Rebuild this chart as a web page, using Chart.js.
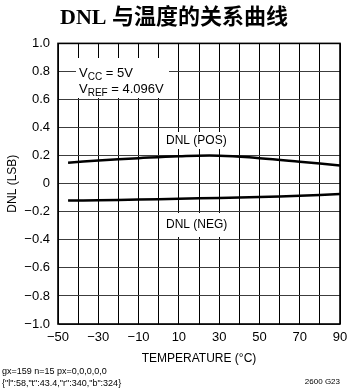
<!DOCTYPE html>
<html>
<head>
<meta charset="utf-8">
<script src="https://cdn.jsdelivr.net/npm/chart.js@4"></script>
</head>
<body style="margin:0; background:#fff">
<canvas id="dnl" width="348" height="392"></canvas>
<script>
// temperature in °C, DNL in LSB
const temps = [-45, -30, -10, 10, 30, 50, 70, 90];
const dnlPos = [0.15, 0.165, 0.182, 0.196, 0.2, 0.182, 0.157, 0.13];
const dnlNeg = [-0.12, -0.118, -0.113, -0.107, -0.102, -0.095, -0.086, -0.074];

const xTickValues = [-50, -30, -10, 10, 30, 50, 70, 90];
const xTickLabels = ['−50', '−30', '−10', '10', '30', '50', '70', '90'];
const yTickValues = [-1, -0.8, -0.6, -0.4, -0.2, 0, 0.2, 0.4, 0.6, 0.8, 1];
const yTickLabels = ['−1.0', '−0.8', '−0.6', '−0.4', '−0.2', '0', '0.2', '0.4', '0.6', '0.8', '1.0'];

const FONT = '"Liberation Sans Narrow", "Liberation Sans", Arial, sans-serif';

function points(ys) {
  return temps.map((t, i) => ({ x: t, y: ys[i] }));
}

const notes = {
  id: 'notes',
  beforeDatasetsDraw(chart) {
    const ctx = chart.ctx;
    ctx.save();
    ctx.fillStyle = 'white';
    ctx.fillRect(76, 58, 93, 40);
    ctx.fillRect(160, 132, 78, 17);
    ctx.fillRect(160, 213, 78, 24);
    ctx.fillStyle = 'black';
    ctx.textBaseline = 'alphabetic';
    ctx.textAlign = 'left';
    function sub(main, s, rest, px, py) {
      ctx.font = '13px ' + FONT;
      ctx.fillText(main, px, py);
      let w = ctx.measureText(main).width;
      ctx.font = '10px ' + FONT;
      ctx.fillText(s, px + w, py + 3);
      w += ctx.measureText(s).width;
      ctx.font = '13px ' + FONT;
      ctx.fillText(rest, px + w, py);
    }
    sub('V', 'CC', ' = 5V', 79, 77);
    sub('V', 'REF', ' = 4.096V', 79, 93);
    ctx.font = '12px ' + FONT;
    ctx.textBaseline = 'middle';
    ctx.fillText('DNL (POS)', 166, 141);
    ctx.fillText('DNL (NEG)', 166, 225);
    ctx.restore();
  },
  afterDraw(chart) {
    const ctx = chart.ctx;
    const a = chart.chartArea;
    const x = chart.scales.x;
    ctx.save();
    ctx.strokeStyle = 'black';
    ctx.lineWidth = 1.6;
    ctx.strokeRect(a.left, a.top, a.right - a.left, a.bottom - a.top);
    // debug: read pixels where grid lines should be
    const gx = Math.round(x.getPixelForValue(0));
    const row = Array.from(ctx.getImageData(gx - 2, 280, 5, 1).data).filter((v, i) => i % 4 === 0).join(',');
    const n = (x._gridLineItems || []).length;
    ctx.font = '9px sans-serif';
    ctx.fillStyle = 'black';
    ctx.textAlign = 'left';
    ctx.textBaseline = 'middle';
    ctx.fillText('gx=' + gx + ' n=' + n + ' px=' + row, 2, 372);
    ctx.fillText(JSON.stringify({ l: a.left, t: a.top, r: a.right, b: a.bottom }), 2, 384);
    ctx.font = '8px ' + FONT;
    ctx.textAlign = 'right';
    ctx.fillText('2600 G23', 340, 382);
    ctx.restore();
  }
};

new Chart(document.getElementById('dnl'), {
  type: 'line',
  data: {
    datasets: [
      { label: 'DNL (POS)', data: points(dnlPos), borderColor: 'black', borderWidth: 2.5, pointRadius: 0, tension: 0.4 },
      { label: 'DNL (NEG)', data: points(dnlNeg), borderColor: 'black', borderWidth: 2.5, pointRadius: 0, tension: 0.4 }
    ]
  },
  options: {
    responsive: false,
    animation: false,
    layout: { padding: { top: 0, right: 0, bottom: 26, left: 0 } },
    scales: {
      x: {
        type: 'linear',
        min: -50,
        max: 90,
        afterFit(scale) { scale.height = 42; scale.paddingRight = 8; },
        ticks: {
          stepSize: 10, autoSkip: false, maxRotation: 0, padding: 6, color: 'black',
          font: { family: FONT, size: 13 },
          callback(v) { const i = xTickValues.indexOf(v); return i >= 0 ? xTickLabels[i] : ''; }
        },
        grid: { color: 'black', lineWidth: 1, drawTicks: false },
        title: { display: true, text: 'TEMPERATURE (°C)', color: 'black', font: { family: FONT, size: 12 }, padding: 0 }
      },
      y: {
        min: -1,
        max: 1,
        afterFit(scale) { scale.width = 58; },
        ticks: {
          stepSize: 0.2, padding: 8, color: 'black',
          font: { family: FONT, size: 13 },
          callback(v) { const i = yTickValues.findIndex(t => Math.abs(t - v) < 1e-6); return i >= 0 ? yTickLabels[i] : ''; }
        },
        grid: { color: 'rgb(60, 60, 60)', lineWidth: 1, drawTicks: false },
        title: { display: true, text: 'DNL (LSB)', color: 'black', font: { family: FONT, size: 12 }, padding: { top: 5, bottom: 0 } }
      }
    },
    plugins: {
      legend: { display: false },
      tooltip: { enabled: false },
      title: {
        display: true,
        text: 'DNL 与温度的关系曲线',
        color: 'black',
        font: { family: '"Liberation Serif", "Noto Sans CJK SC", serif', size: 22, weight: 'bold' },
        padding: { top: 5, bottom: 12 }
      }
    }
  },
  plugins: [notes]
});
</script>
</body>
</html>
